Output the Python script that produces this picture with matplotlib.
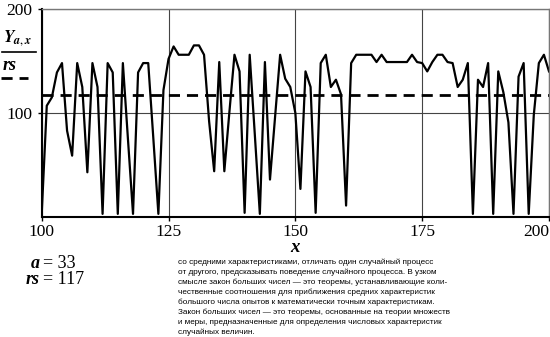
import matplotlib
matplotlib.use("Agg")
import matplotlib.pyplot as plt
from matplotlib.lines import Line2D

# series Y(a, x) for x = 100..200
x_vals = list(range(100, 201))
y_vals = [3, 107, 115, 139, 148, 83, 59, 148, 125, 43,
          148, 125, 3, 148, 139, 3, 148, 75, 3, 139,
          148, 148, 76, 3, 122, 152, 164, 156, 156, 156,
          165, 165, 156, 92, 44, 149, 44, 101, 156, 140,
          4, 156, 80, 3, 149, 36, 96, 156, 133, 125,
          100, 27, 140, 125, 4, 148, 156, 125, 132, 118,
          11, 148, 156, 156, 156, 156, 149, 156, 149, 149,
          149, 149, 149, 156, 149, 148, 140, 149, 156, 156,
          149, 148, 125, 132, 148, 3, 132, 125, 148, 3,
          140, 120, 91, 3, 135, 148, 3, 98, 148, 156, 140]
rs = 117
a = 33
x_ticks = [100, 125, 150, 175, 200]
y_ticks = [100, 200]

paragraph = [
    "со средними характеристиками, отличать один случайный процесс",
    "от другого, предсказывать поведение случайного процесса. В узком",
    "смысле закон больших чисел — это теоремы, устанавливающие коли-",
    "чественные соотношения для приближения средних характеристик",
    "большого числа опытов к математически точным характеристикам.",
    "Закон больших чисел — это теоремы, основанные на теории множеств",
    "и меры, предназначенные для определения числовых характеристик",
    "случайных величин.",
]

W, H = 550, 337
serif = "Liberation Serif"

fig = plt.figure(figsize=(W / 100, H / 100), dpi=100)
ax = fig.add_axes([41.7 / W, 1 - 217 / H, (549 - 41.7) / W, (217 - 9) / H])

ax.plot(x_vals, y_vals, color="black", lw=1.6)
ax.plot([100, 200], [rs, rs], color="black", lw=2, dashes=(4, 2.5))

ax.set_xlim(100, 200)
ax.set_ylim(0, 200)
ax.set_xticks(x_ticks)
ax.set_yticks(y_ticks)
ax.set_xticklabels([str(t) for t in x_ticks], fontfamily=serif, fontsize=12.5)
ax.set_yticklabels([str(t) for t in y_ticks], fontfamily=serif, fontsize=12.5)
ax.get_xticklabels()[-1].set_ha("right")
ax.tick_params(length=3, width=1)
ax.tick_params(axis="x", pad=2)
ax.tick_params(axis="y", pad=4)
ax.grid(True, color="#444444", lw=0.8)
ax.set_axisbelow(True)
for side in ["left", "bottom"]:
    ax.spines[side].set_linewidth(1.5)
for side in ["top", "right"]:
    ax.spines[side].set_color("#777777")
    ax.spines[side].set_linewidth(1)

# legend-like block on the left
fig.text(3 / W, 1 - 38 / H, r"$\boldsymbol{Y}_{\boldsymbol{a,x}}$", fontsize=12.5,
         ha="left", va="center", math_fontfamily="stix")
fig.add_artist(Line2D([2 / W, 36 / W], [1 - 52 / H, 1 - 52 / H], color="black", lw=1.2))
fig.text(3 / W, 1 - 65 / H, "rs", fontfamily=serif, fontsize=13, fontweight="bold",
         fontstyle="italic", ha="left", va="center")
fig.add_artist(Line2D([1 / W, 28 / W], [1 - 78 / H, 1 - 78 / H], color="black", lw=2,
                      dashes=(4, 2.5)))

# axis title
fig.text(295 / W, 1 - 248 / H, "x", fontfamily=serif, fontsize=13.5, fontweight="bold",
         fontstyle="italic", ha="center", va="center")

# parameters
fig.text(40 / W, 1 - 263 / H, "a", fontfamily=serif, fontsize=13, fontweight="bold",
         fontstyle="italic", ha="right", va="center")
fig.text(43 / W, 1 - 263 / H, "= %d" % a, fontfamily=serif, fontsize=13,
         ha="left", va="center")
fig.text(40 / W, 1 - 280 / H, "rs", fontfamily=serif, fontsize=13, fontweight="bold",
         fontstyle="italic", ha="right", va="center")
fig.text(43 / W, 1 - 280 / H, "= %d" % rs, fontfamily=serif, fontsize=13,
         ha="left", va="center")

# paragraph of text
for i, line in enumerate(paragraph):
    fig.text(178 / W, 1 - (262 + i * 10.1) / H, line, fontfamily="Liberation Sans",
             fontsize=5.9, ha="left", va="center")

fig.savefig("out.png", dpi=100)
